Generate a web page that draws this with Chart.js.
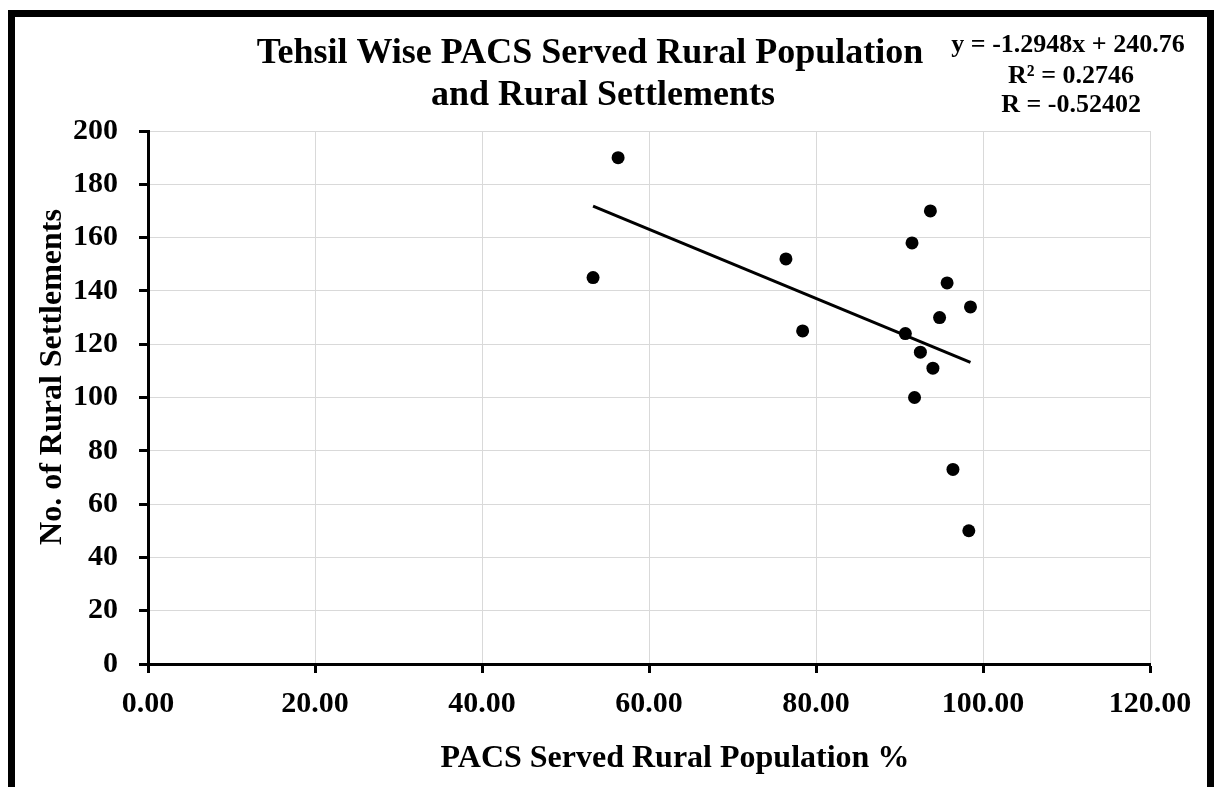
<!DOCTYPE html>
<html>
<head>
<meta charset="utf-8">
<script src="https://cdn.jsdelivr.net/npm/chart.js"></script>
<style>
  body { margin: 0; background: #fff; }
  #wrap { width: 1214px; height: 787px; }
</style>
</head>
<body>
<div id="wrap"><canvas id="myChart" width="1214" height="787"></canvas></div>
<script>
// data
const servedPct = [56.3, 53.3, 76.4, 78.4, 93.7, 91.5, 95.7, 98.5, 94.8, 90.7, 92.5, 94.0, 91.8, 96.4, 98.3];
const settlements = [190, 145, 152, 125, 170, 158, 143, 134, 130, 124, 117, 111, 100, 73, 50];

// linear trendline end points (min x .. max x)
const trendX = [53.3, 98.5];
const trendY = [171.8, 113.2];

const titleLines = ['Tehsil Wise PACS Served Rural Population', 'and Rural Settlements'];
const eqLines = ['y = -1.2948x + 240.76', 'R\u00b2 = 0.2746', 'R = -0.52402'];
const xTitle = 'PACS Served Rural Population %';
const yTitle = 'No. of Rural Settlements';

const serif = "'Liberation Serif', 'Times New Roman', serif";

let points = servedPct.map((x, i) => ({ x: x, y: settlements[i] }));
let trend = trendX.map((x, i) => ({ x: x, y: trendY[i] }));

// border, titles and the equation box
const chartText = {
  id: 'chartText',
  afterDraw(chart) {
    const ctx = chart.ctx;
    ctx.save();
    ctx.strokeStyle = '#000';
    ctx.lineWidth = 7;
    ctx.strokeRect(11.5, 13.5, 1199, 800);

    ctx.fillStyle = '#000';
    ctx.textAlign = 'center';
    ctx.textBaseline = 'alphabetic';
    ctx.font = 'bold 36px ' + serif;
    ctx.fillText(titleLines[0], 590, 63);
    ctx.fillText(titleLines[1], 603, 105);

    ctx.font = 'bold 26px ' + serif;
    ctx.fillText(eqLines[0], 1068, 52);
    ctx.fillText(eqLines[1], 1071, 83);
    ctx.fillText(eqLines[2], 1071, 112);

    // axis titles
    ctx.font = 'bold 32px ' + serif;
    ctx.fillText(xTitle, 675, 767);
    ctx.translate(61, 377);
    ctx.rotate(-Math.PI / 2);
    ctx.fillText(yTitle, 0, 0);
    ctx.restore();
  }
};

const tickFont = { family: serif, size: 30, weight: 'bold' };

new Chart(document.getElementById('myChart'), {
  type: 'scatter',
  data: {
    datasets: [{
      label: 'Trend',
      data: trend,
      showLine: true,
      borderColor: '#000',
      borderWidth: 3,
      pointRadius: 0,
      order: 0
    }, {
      label: 'Tehsils',
      data: points,
      backgroundColor: '#000',
      borderWidth: 0,
      pointRadius: 6.5,
      order: 1
    }]
  },
  options: {
    responsive: false,
    animation: false,
    layout: { padding: { left: 0, right: 64, top: 131, bottom: 0 } },
    plugins: {
      legend: { display: false },
      tooltip: { enabled: false }
    },
    scales: {
      x: {
        type: 'linear',
        min: 0,
        max: 120,
        ticks: {
          stepSize: 20,
          color: '#000',
          font: tickFont,
          padding: 13,
          callback: (v) => v.toFixed(2)
        },
        grid: { color: '#d9d9d9', lineWidth: 1, tickColor: '#000', tickWidth: 3, tickLength: 9 },
        border: { color: '#000', width: 3 },
        afterFit: (s) => { s.height = 123; }
      },
      y: {
        min: 0,
        max: 200,
        ticks: {
          stepSize: 20,
          color: '#000',
          font: tickFont,
          padding: 21
        },
        grid: { color: '#d9d9d9', lineWidth: 1, tickColor: '#000', tickWidth: 3, tickLength: 9 },
        border: { color: '#000', width: 3 },
        afterFit: (s) => { s.width = 148; }
      }
    }
  },
  plugins: [chartText]
});
</script>
</body>
</html>
